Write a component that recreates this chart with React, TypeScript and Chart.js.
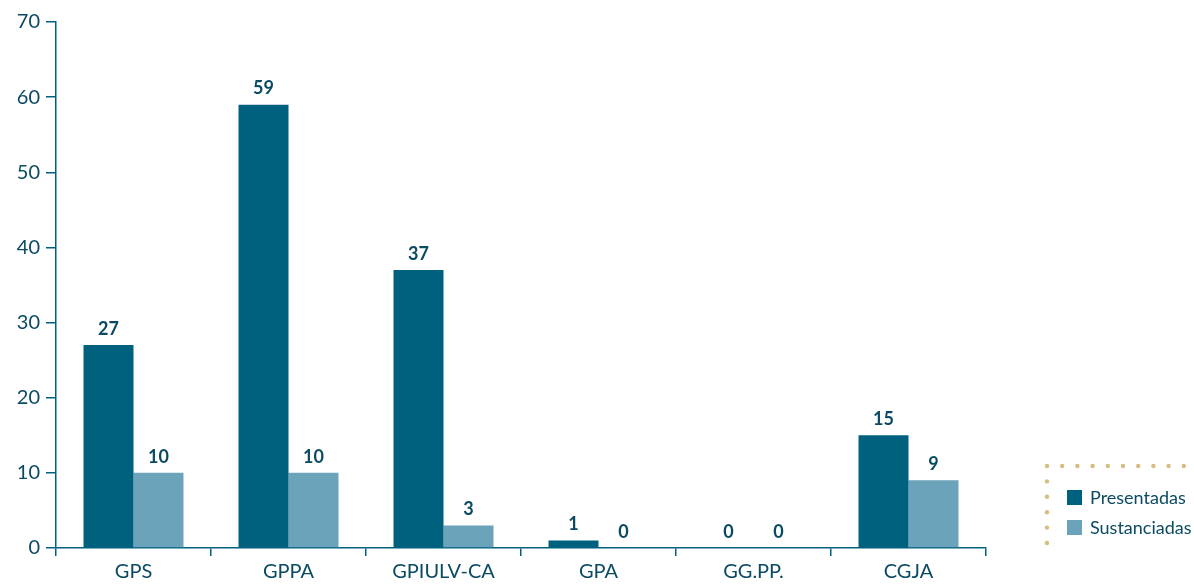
import React, { useEffect, useRef } from "react";
import { Chart, registerables } from "chart.js";

Chart.register(...registerables);

const categories = ["GPS", "GPPA", "GPIULV-CA", "GPA", "GG.PP.", "CGJA"];
const presentadas = [27, 59, 37, 1, 0, 15];
const sustanciadas = [10, 10, 3, 0, 0, 9];
const seriesNames = ["Presentadas", "Sustanciadas"];
const yTicks = [0, 10, 20, 30, 40, 50, 60, 70];

const DARK = "#00617f";
const LIGHT = "#6aa3ba";
const TEXT = "#0b4a63";
const GOLD = "#d6bd80";
const FONT = "Lato, 'Noto Sans', sans-serif";

const valueLabels = {
  id: "valueLabels",
  afterDatasetsDraw(chart: any) {
    const ctx = chart.ctx;
    ctx.save();
    ctx.fillStyle = TEXT;
    ctx.font = `bold 18px ${FONT}`;
    ctx.textAlign = "center";
    ctx.textBaseline = "bottom";
    chart.data.datasets.forEach((ds: any, i: number) => {
      const meta = chart.getDatasetMeta(i);
      meta.data.forEach((bar: any, j: number) => {
        ctx.fillText(String(ds.data[j]), bar.x, bar.y - 7);
      });
    });
    ctx.restore();
  },
};

const customLegend = {
  id: "customLegend",
  afterDraw(chart: any) {
    const ctx = chart.ctx;
    ctx.save();
    ctx.fillStyle = GOLD;
    const x0 = 1047;
    const y0 = 466;
    for (let k = 0; k < 10; k++) {
      ctx.beginPath();
      ctx.arc(x0 + k * 15.2, y0, 2.2, 0, Math.PI * 2);
      ctx.fill();
    }
    for (let k = 1; k < 6; k++) {
      ctx.beginPath();
      ctx.arc(x0, y0 + k * 15.4, 2.2, 0, Math.PI * 2);
      ctx.fill();
    }
    const colors = [DARK, LIGHT];
    ctx.font = `18px ${FONT}`;
    ctx.textBaseline = "middle";
    ctx.textAlign = "left";
    seriesNames.forEach((name, i) => {
      const y = 490 + i * 30;
      ctx.fillStyle = colors[i];
      ctx.fillRect(1067, y, 15, 15);
      ctx.fillStyle = TEXT;
      ctx.fillText(name, 1090, y + 8);
    });
    ctx.restore();
  },
};

export default function App() {
  const ref = useRef<HTMLCanvasElement>(null);
  useEffect(() => {
    if (!ref.current) return;
    const chart = new Chart(ref.current, {
      type: "bar",
      data: {
        labels: categories,
        datasets: [
          { label: seriesNames[0], data: presentadas, backgroundColor: DARK, barPercentage: 1, categoryPercentage: 0.645 },
          { label: seriesNames[1], data: sustanciadas, backgroundColor: LIGHT, barPercentage: 1, categoryPercentage: 0.645 },
        ],
      },
      options: {
        animation: false,
        responsive: false,
        layout: { padding: { top: 22, right: 208, left: 0, bottom: 0 } },
        plugins: { legend: { display: false }, tooltip: { enabled: false } },
        scales: {
          x: {
            offset: true,
            grid: { display: true, drawOnChartArea: false, offset: true, tickLength: 8, color: DARK, lineWidth: 1.5 },
            border: { color: DARK, width: 1.5 },
            ticks: { color: TEXT, font: { family: FONT, size: 20 }, padding: 4 },
            afterFit(scale: any) {
              scale.height = 38;
            },
          },
          y: {
            min: 0,
            max: 70,
            afterBuildTicks(scale: any) {
              scale.ticks = yTicks.map((v) => ({ value: v }));
            },
            grid: { display: true, drawOnChartArea: false, tickLength: 10, color: DARK, lineWidth: 1.5 },
            border: { color: DARK, width: 1.5 },
            ticks: { color: TEXT, font: { family: FONT, size: 20 }, padding: 6 },
            afterFit(scale: any) {
              scale.width = 56;
            },
          },
        },
      },
      plugins: [valueLabels, customLegend],
    });
    return () => chart.destroy();
  }, []);
  return (
    <div style={{ position: "fixed", left: 0, top: 0, width: 1194, height: 586, background: "#fff" }}>
      <canvas ref={ref} width={1194} height={586} />
    </div>
  );
}
